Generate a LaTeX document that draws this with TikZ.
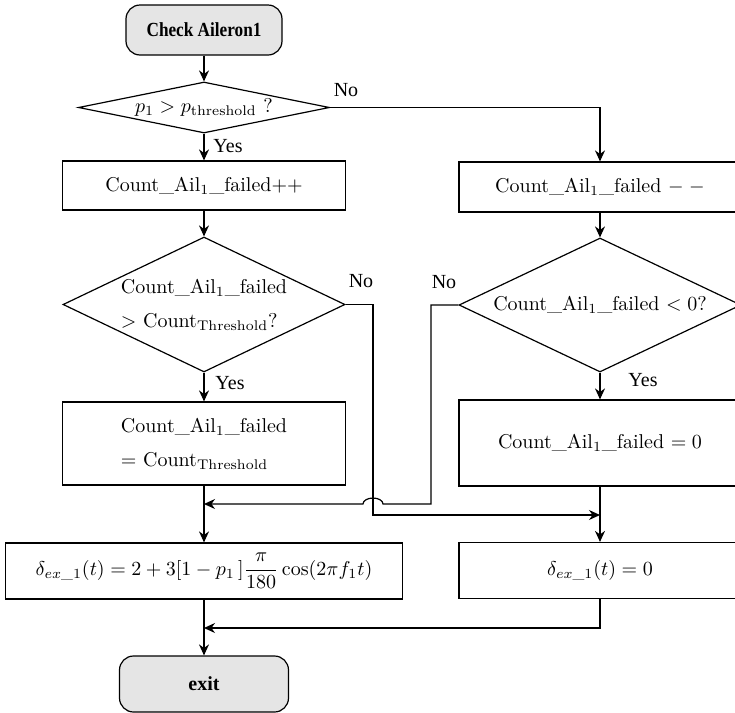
\documentclass[tikz,border=0pt]{standalone}
\usepackage{amsmath}
\usepackage{fontspec}
\newfontfamily\timesfont{Liberation Serif}
\newfontfamily\timesnarrow[FakeStretch=0.86]{Liberation Serif}
\usetikzlibrary{shapes.geometric,arrows.meta}

\tikzset{
  flowbox/.style={draw, line width=0.6pt, rectangle, inner sep=0pt},
  decision/.style={draw, line width=0.6pt, diamond, inner sep=0pt},
  terminal/.style={draw, line width=0.6pt, rectangle, rounded corners=7pt, fill=black!10, minimum width=84.5pt, minimum height=28pt, font=\timesfont\bfseries},
  arrow/.style={line width=0.6pt, -{Stealth[length=5.5pt,width=5pt]}},
  answer/.style={font=\timesfont},
}

\begin{document}
\begin{tikzpicture}[x=0.5pt,y=-0.5pt]
			\useasboundingbox (0,0) rectangle (735,713); % page frame
			
			% nodes, top to bottom
			\node[terminal, font=\timesnarrow\bfseries, minimum width=78pt, minimum height=25pt] (check) at (204,30) {Check Aileron1}; % start
			\node[decision, shape aspect=4.9, minimum width=125.5pt, minimum height=25.5pt] (pcheck) at (204,107.5) {$p_1 > p_{\mathrm{threshold}}$ ?}; % first test
			\node[flowbox, minimum width=141.5pt, minimum height=24.5pt] (inc) at (204,185.5) {Count\_Ail$_1$\_failed++};
			\node[flowbox, minimum width=141pt, minimum height=25pt] (dec) at (600,187) {Count\_Ail$_1$\_failed $-\;-$};
			\node[decision, shape aspect=2.09, minimum width=141pt, minimum height=67.5pt, align=left] (cmax) at (204,304.5) {Count\_Ail$_1$\_failed\\[5pt]$>$ Count$_{\mathrm{Threshold}}$?};
			\node[decision, shape aspect=2.1, minimum width=141pt, minimum height=67pt] (cmin) at (600,305) {Count\_Ail$_1$\_failed $< 0$?};
			\node[flowbox, minimum width=141.5pt, minimum height=41.5pt, align=left] (setmax) at (204,443.5) {Count\_Ail$_1$\_failed\\[5pt]$=$ Count$_{\mathrm{Threshold}}$};
			\node[flowbox, minimum width=141pt, minimum height=43pt] (setzero) at (600,443) {Count\_Ail$_1$\_failed $= 0$};
			\node[flowbox, minimum width=198.5pt, minimum height=28pt] (deflL) at (204,571) {$\delta_{ex\_1}(t) = 2 + 3[1 - p_1\,]\dfrac{\pi}{180}\cos(2\pi f_1 t)$};
			\node[flowbox, minimum width=141pt, minimum height=28pt] (deflR) at (600,570.5) {$\delta_{ex\_1}(t) = 0$};
			\node[terminal] (exit) at (204,684) {exit}; % end
			
			% yes / no
			\node[answer] (no1) at (346,90) {No};
			\node[answer] (yes1) at (228,146) {Yes};
			\node[answer] (no2) at (361,281) {No};
			\node[answer] (yes2) at (230,383) {Yes};
			\node[answer] (no3) at (444,282) {No};
			\node[answer] (yes3) at (643,380) {Yes};
			
			\coordinate (mergeL) at (204,504); % into left column
			\coordinate (mergeR) at (600,515); % into right column
			\coordinate (joinB) at (204,628); % into exit
			
			\draw[arrow] (check) -- (pcheck);
			\draw[arrow] (pcheck) -- (inc);
			\draw[arrow] (pcheck.east) -| (dec.north);
			\draw[arrow] (inc) -- (cmax);
			\draw[arrow] (dec) -- (cmin);
			\draw[arrow] (cmax) -- (setmax);
			\draw[arrow] (cmin) -- (setzero);
			\draw[arrow] (cmax.east) -| (373,515) -- (mergeR); % no: skip
			\draw[arrow] (cmin.west) -| (431,504) -- (383,504) arc[start angle=0, end angle=180, x radius=5pt, y radius=3pt] -- (mergeL); % no: jump over
			\draw[arrow] (setmax) -- (deflL);
			\draw[arrow] (setzero) -- (deflR);
			\draw[arrow] (deflL) -- (exit);
			\draw[arrow] (deflR.south) |- (joinB);
			
\end{tikzpicture}
\end{document}
